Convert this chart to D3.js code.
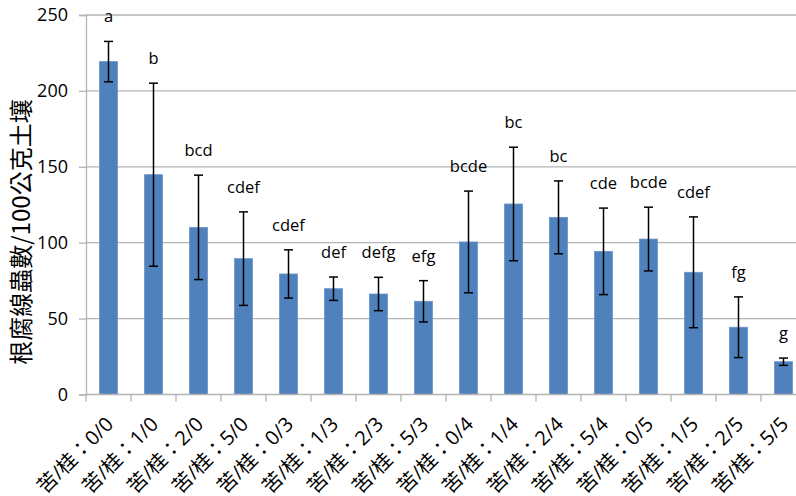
<!DOCTYPE html>
<html>
<head>
<meta charset="utf-8">
<script src="https://cdn.jsdelivr.net/npm/d3@7/dist/d3.min.js"></script>
<style>
  html, body { margin: 0; padding: 0; background: #fff; }
  svg { display: block; }
</style>
</head>
<body>
<svg id="chart" width="796" height="496"></svg>
<script>
// Treatments: ratio of 苦 to 桂
const categories = [
  "苦/桂：0/0", "苦/桂：1/0", "苦/桂：2/0", "苦/桂：5/0",
  "苦/桂：0/3", "苦/桂：1/3", "苦/桂：2/3", "苦/桂：5/3",
  "苦/桂：0/4", "苦/桂：1/4", "苦/桂：2/4", "苦/桂：5/4",
  "苦/桂：0/5", "苦/桂：1/5", "苦/桂：2/5", "苦/桂：5/5"
];
// Mean nematode count per 100 g soil
const means = [219.3, 144.8, 110.1, 89.5, 79.4, 69.7, 66.2, 61.4,
               100.5, 125.5, 116.7, 94.3, 102.4, 80.5, 44.3, 21.6];
// Error bar half-width
const errors = [13.3, 60.3, 34.4, 30.8, 15.9, 7.7, 11.0, 13.6,
                33.5, 37.4, 24.0, 28.5, 21.0, 36.5, 20.0, 2.4];
// Significance letters
const letters = ["a", "b", "bcd", "cdef", "cdef", "def", "defg", "efg",
                 "bcde", "bc", "bc", "cde", "bcde", "cdef", "fg", "g"];
const yTicks = [0, 50, 100, 150, 200, 250];
const yTitle = "根腐線蟲數/100公克土壤";

const data = categories.map((c, i) => ({ cat: c, mean: means[i], err: errors[i], letter: letters[i] }));

const svg = d3.select("#chart");
const plotLeft = 86, plotRight = 806, plotTop = 15, plotBottom = 394.5;

const x = d3.scaleBand().domain(categories).range([plotLeft, plotRight])
  .paddingInner(0.6).paddingOuter(0.3);
const y = d3.scaleLinear().domain([0, 250]).range([plotBottom, plotTop]);

const latin = "'Open Sans', 'Noto Sans CJK TC', sans-serif";
const gridColor = "#b3b3b3";

// horizontal gridlines
svg.append("g").selectAll("line").data(yTicks.filter(t => t > 0)).join("line")
  .attr("x1", plotLeft).attr("x2", plotRight)
  .attr("y1", d => y(d)).attr("y2", d => y(d))
  .attr("stroke", gridColor).attr("stroke-width", 1.3);

// y axis
const yAxis = svg.append("g").attr("transform", `translate(${plotLeft},0)`)
  .call(d3.axisLeft(y).tickValues(yTicks).tickSize(7).tickPadding(11));
yAxis.select(".domain").attr("stroke", gridColor).attr("stroke-width", 1.3);
yAxis.selectAll(".tick line").attr("stroke", gridColor).attr("stroke-width", 1.3);
yAxis.selectAll(".tick text").attr("font-family", latin).attr("font-size", 18).attr("fill", "#000");

// bars
svg.append("g").selectAll("rect").data(data).join("rect")
  .attr("x", d => x(d.cat)).attr("width", x.bandwidth())
  .attr("y", d => y(d.mean)).attr("height", d => y(0) - y(d.mean))
  .attr("fill", "#4f81bd").attr("stroke", "#6c95c8").attr("stroke-width", 0.8);

// x axis
const step = x.step();
const xAxis = svg.append("g");
xAxis.append("line").attr("x1", plotLeft).attr("x2", plotRight)
  .attr("y1", plotBottom).attr("y2", plotBottom)
  .attr("stroke", gridColor).attr("stroke-width", 1.3);
xAxis.selectAll("line.tk").data(d3.range(categories.length + 1)).join("line")
  .attr("class", "tk")
  .attr("x1", i => plotLeft + i * step).attr("x2", i => plotLeft + i * step)
  .attr("y1", plotBottom).attr("y2", plotBottom + 7)
  .attr("stroke", gridColor).attr("stroke-width", 1.3);

// rotated category labels
svg.append("g").selectAll("text").data(data).join("text")
  .attr("transform", d => `translate(${x(d.cat) + x.bandwidth() / 2 + 6},${plotBottom + 31}) rotate(-45)`)
  .attr("text-anchor", "end")
  .attr("font-family", latin).attr("font-size", 20).attr("fill", "#000")
  .text(d => d.cat);

// error bars
const eb = svg.append("g").attr("stroke", "#000").attr("stroke-width", 1.5);
data.forEach(d => {
  const cx = x(d.cat) + x.bandwidth() / 2;
  const cw = 4.5;
  eb.append("line").attr("x1", cx).attr("x2", cx).attr("y1", y(d.mean + d.err)).attr("y2", y(d.mean - d.err));
  eb.append("line").attr("x1", cx - cw).attr("x2", cx + cw).attr("y1", y(d.mean + d.err)).attr("y2", y(d.mean + d.err));
  eb.append("line").attr("x1", cx - cw).attr("x2", cx + cw).attr("y1", y(d.mean - d.err)).attr("y2", y(d.mean - d.err));
});

// significance letters
svg.append("g").selectAll("text").data(data).join("text")
  .attr("x", d => x(d.cat) + x.bandwidth() / 2)
  .attr("y", d => y(d.mean + d.err) - 19)
  .attr("text-anchor", "middle")
  .attr("font-family", latin).attr("font-size", 16.5).attr("fill", "#000")
  .text(d => d.letter);

// y axis title
svg.append("text")
  .attr("transform", `translate(30,232) rotate(-90)`)
  .attr("text-anchor", "middle")
  .attr("font-family", "'Noto Sans CJK TC', sans-serif").attr("font-size", 24).attr("fill", "#000")
  .text(yTitle);
</script>
</body>
</html>
